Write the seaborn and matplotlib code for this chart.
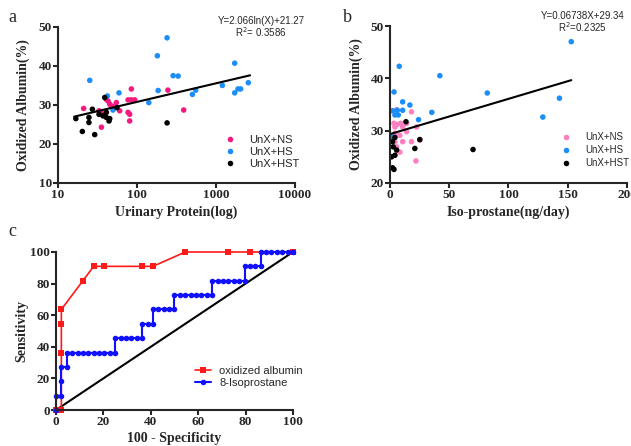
import numpy as np
import pandas as pd
import matplotlib
matplotlib.use('Agg')
import matplotlib.pyplot as plt
import seaborn as sns

# ---- panel a: urinary protein vs oxidized albumin ----
a_ns_x = [21.1, 33.0, 35.4, 35.4, 40.9, 43.0, 45.1, 47.3, 49.6, 54.7, 60.3, 76.9, 84.7, 93.4,
          84.7, 76.9, 80.7, 80.7, 246, 390]
a_ns_y = [29.1, 28.5, 27.9, 24.3, 31.4, 31.0, 30.2, 29.7, 29.6, 30.6, 28.5, 31.3, 31.3, 31.3,
          34.1, 28.1, 27.6, 25.9, 33.8, 28.7]
a_hs_x = [25.2, 42.1, 59.1, 49.6, 141, 185, 181, 240, 286, 331, 502, 553, 1203, 1723, 1723,
          1898, 2050, 2565]
a_hs_y = [36.3, 32.3, 33.1, 28.7, 30.6, 33.7, 42.6, 47.2, 37.5, 37.4, 32.7, 33.8, 35.0, 40.7,
          33.1, 34.1, 34.1, 35.7]
a_hst_x = [16.8, 20.3, 24.6, 24.6, 27.2, 29.1, 33.0, 37.1, 39.0, 40.9, 40.9, 44.2, 45.1, 55.8, 240]
a_hst_y = [26.5, 23.2, 26.8, 25.5, 28.9, 22.4, 27.6, 27.2, 31.9, 28.1, 26.8, 25.9, 26.5, 29.3, 25.4]

# ---- panel b: isoprostane vs oxidized albumin ----
b_ns_x = [5.6, 18.2, 3.4, 6.2, 9.0, 14.0, 4.2, 10.7, 22.4, 14.0, 4.2, 8.4, 18.2, 10.7, 4.2,
          25.2, 8.4, 21.9, 5.6]
b_ns_y = [34.0, 33.6, 31.4, 31.2, 31.4, 31.4, 30.7, 30.7, 30.7, 29.8, 29.5, 29.1, 27.9, 27.9,
          27.9, 28.2, 25.9, 24.2, 26.9]
b_hs_x = [3.4, 7.8, 2.2, 4.2, 7.0, 10.7, 10.7, 16.8, 24.1, 35.3, 42.1, 82.1, 129, 143, 153, 2.2, 6.2]
b_hs_y = [37.4, 42.3, 33.8, 33.0, 33.0, 35.5, 33.9, 34.9, 32.1, 33.5, 40.5, 37.2, 32.6, 36.2,
          47.0, 28.8, 33.9]
b_hst_x = [13.5, 4.2, 2.2, 2.8, 5.6, 21.0, 25.2, 4.2, 2.2, 3.4, 1.4, 70.1]
b_hst_y = [31.7, 28.7, 27.9, 26.9, 26.3, 26.6, 28.3, 25.3, 22.9, 22.6, 25.0, 26.4]

groups = ['UnX+NS', 'UnX+HS', 'UnX+HST']

# ---- panel c: ROC curves ----
ox_fpr = [0, 2.27, 2.27, 2.27, 2.27, 11.36, 15.91, 20.45, 36.36, 40.91, 54.55, 72.73, 81.82, 100]
ox_tpr = [0, 0, 36.36, 54.55, 63.64, 81.82, 90.91, 90.91, 90.91, 90.91, 100, 100, 100, 100]
iso_fpr = [0, 0, 2.27, 2.27, 2.27, 4.55, 4.55, 6.82, 9.09, 11.36, 13.64, 15.91, 18.18, 20.45,
           22.73, 25.0, 25.0, 27.27, 29.55, 31.82, 34.09, 36.36, 36.36, 38.64, 40.91, 40.91,
           43.18, 45.45, 47.73, 50.0, 50.0, 52.27, 54.55, 56.82, 59.09, 61.36, 63.64, 65.91,
           65.91, 68.18, 70.45, 72.73, 75.0, 77.27, 79.55, 79.55, 81.82, 84.09, 86.36, 86.36,
           88.64, 90.91, 93.18, 95.45, 97.73, 100]
iso_tpr = [0, 9.09, 9.09, 18.18, 27.27, 27.27, 36.36, 36.36, 36.36, 36.36, 36.36, 36.36, 36.36,
           36.36, 36.36, 36.36, 45.45, 45.45, 45.45, 45.45, 45.45, 45.45, 54.55, 54.55, 54.55,
           63.64, 63.64, 63.64, 63.64, 63.64, 72.73, 72.73, 72.73, 72.73, 72.73, 72.73, 72.73,
           72.73, 81.82, 81.82, 81.82, 81.82, 81.82, 81.82, 81.82, 90.91, 90.91, 90.91, 90.91,
           100, 100, 100, 100, 100, 100, 100]


def make_df(xs, ys):
    rows = []
    for g, x, y in zip(groups, xs, ys):
        rows.append(pd.DataFrame({'x': x, 'y': y, 'group': g}))
    return pd.concat(rows, ignore_index=True)


df_a = make_df([a_ns_x, a_hs_x, a_hst_x], [a_ns_y, a_hs_y, a_hst_y])
df_b = make_df([b_ns_x, b_hs_x, b_hst_x], [b_ns_y, b_hs_y, b_hst_y])

sns.set_style('ticks')
plt.rcParams['font.family'] = ['Liberation Serif', 'DejaVu Serif']
plt.rcParams['axes.linewidth'] = 1.5
plt.rcParams['xtick.major.width'] = 1.5
plt.rcParams['ytick.major.width'] = 1.5
plt.rcParams['xtick.major.size'] = 3.5
plt.rcParams['ytick.major.size'] = 3.5

SANS = 'Liberation Sans'
lab_kw = dict(fontsize=10, fontweight='bold', family='Liberation Serif')

fig = plt.figure(figsize=(6.31, 4.46), dpi=100)
ax_a = fig.add_axes([0.092, 0.5897, 0.3755, 0.35])
ax_b = fig.add_axes([0.618, 0.5897, 0.3756, 0.352])
ax_c = fig.add_axes([0.0887, 0.0807, 0.3756, 0.3543])


def style_ticks(ax):
    for t in ax.get_xticklabels() + ax.get_yticklabels():
        t.set_fontweight('bold')
        t.set_fontsize(9.5)
    ax.tick_params(pad=1)
    sns.despine(ax=ax)


# panel a
sns.scatterplot(data=df_a, x='x', y='y', hue='group', hue_order=groups,
                palette=['#f5197f', '#1c8ef9', '#000000'], s=16, linewidth=0, ax=ax_a)
ax_a.set_xscale('log')
ax_a.set_xlim(10, 10000)
ax_a.set_ylim(10, 50)
ax_a.set_xticks([10, 100, 1000, 10000])
ax_a.set_xticklabels(['10', '100', '1000', '10000'])
ax_a.xaxis.set_minor_locator(matplotlib.ticker.NullLocator())
ax_a.set_yticks([10, 20, 30, 40, 50])
xs = np.geomspace(16, 2700, 100)
ax_a.plot(xs, 2.066 * np.log(xs) + 21.27, color='black', lw=1.5)
ax_a.set_xlabel('Urinary Protein(log)', labelpad=3, **lab_kw)
ax_a.set_ylabel('Oxidized Albumin(%)', **lab_kw)
ax_a.yaxis.set_label_coords(-0.118, 0.5)
ax_a.text(0.857, 0.994, 'Y=2.066ln(X)+21.27\nR$^2$= 0.3586', transform=ax_a.transAxes,
          ha='center', va='center', fontsize=7, family=SANS, linespacing=0.95)
style_ticks(ax_a)
sns.move_legend(ax_a, 'center left', bbox_to_anchor=(0.644, 0.199), title=None,
                frameon=False, prop={'family': SANS, 'size': 8}, handlelength=1.6,
                handletextpad=1.0, labelspacing=0.15, borderpad=0.4)

# panel b
sns.scatterplot(data=df_b, x='x', y='y', hue='group', hue_order=groups,
                palette=['#ff80c0', '#1c8ef9', '#000000'], s=16, linewidth=0, ax=ax_b)
ax_b.set_xlim(0, 200)
ax_b.set_ylim(20, 50)
ax_b.set_xticks([0, 50, 100, 150, 200])
ax_b.set_yticks([20, 30, 40, 50])
xb = np.linspace(0, 153, 50)
ax_b.plot(xb, 0.06738 * xb + 29.34, color='black', lw=1.5)
ax_b.set_xlabel('Iso-prostane(ng/day)', labelpad=3, **lab_kw)
ax_b.set_ylabel('Oxidized Albumin(%)', **lab_kw)
ax_b.yaxis.set_label_coords(-0.114, 0.5)
ax_b.text(0.99, 1.022, 'Y=0.06738X+29.34\nR$^2$=0.2325', transform=ax_b.transAxes,
          ha='right', va='center', fontsize=7, family=SANS, linespacing=0.95,
          multialignment='center')
style_ticks(ax_b)
sns.move_legend(ax_b, 'center left', bbox_to_anchor=(0.675, 0.21), title=None,
                frameon=False, prop={'family': SANS, 'size': 7}, handlelength=1.6,
                handletextpad=1.15, labelspacing=0.3, borderpad=0.4)

# panel c
ax_c.plot([0, 100], [0, 100], color='black', lw=1.5)
sns.lineplot(x=ox_fpr, y=ox_tpr, sort=False, estimator=None, color='#ff1a1a', marker='s',
             markersize=4.5, markeredgewidth=0, lw=1.2, label='oxidized albumin', ax=ax_c,
             clip_on=False)
sns.lineplot(x=iso_fpr, y=iso_tpr, sort=False, estimator=None, color='#1010ff', marker='o',
             markersize=4, markeredgewidth=0, lw=1.5, label='8-Isoprostane', ax=ax_c,
             clip_on=False)
ax_c.set_xlim(0, 100)
ax_c.set_ylim(0, 100)
ax_c.set_xticks(range(0, 101, 20))
ax_c.set_yticks(range(0, 101, 20))
ax_c.set_xlabel('100 - Specificity', labelpad=3, **lab_kw)
ax_c.set_ylabel('Sensitivity', **lab_kw)
ax_c.yaxis.set_label_coords(-0.118, 0.5)
style_ticks(ax_c)
ax_c.legend(loc='center left', bbox_to_anchor=(0.543, 0.209), frameon=False,
            prop={'family': SANS, 'size': 8}, handlelength=1.5, handletextpad=0.7,
            labelspacing=0.15, borderpad=0.4)

fig.text(12 / 631, 1 - 18 / 446, 'a', fontsize=13, ha='center', va='center')
fig.text(347 / 631, 1 - 18 / 446, 'b', fontsize=13, ha='center', va='center')
fig.text(12 / 631, 1 - 232 / 446, 'c', fontsize=13, ha='center', va='center')

fig.savefig('out.png', dpi=100)
